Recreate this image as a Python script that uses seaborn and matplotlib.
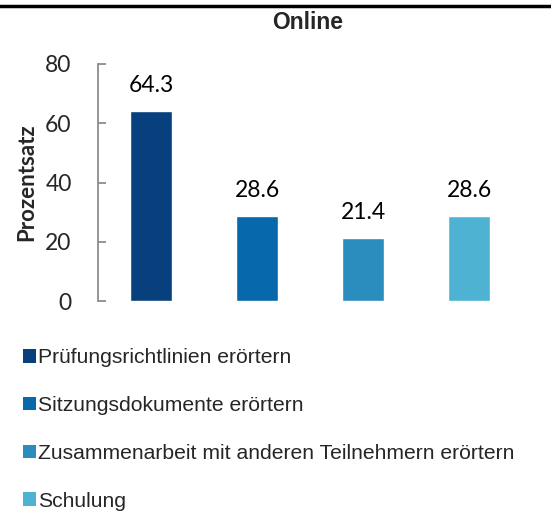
"""balkendiagramm 'Online' - anteil in prozent je thema."""

import matplotlib
matplotlib.use("Agg")
import matplotlib.pyplot as plt
from matplotlib.lines import Line2D
from matplotlib.patches import Patch
import seaborn as sns

# daten
kategorien = [
    "Prüfungsrichtlinien erörtern",
    "Sitzungsdokumente erörtern",
    "Zusammenarbeit mit anderen Teilnehmern erörtern",
    "Schulung",
]
prozent = [64.3, 28.6, 21.4, 28.6]
farben = ["#08407E", "#0868AC", "#2B8CBE", "#4EB3D3"]
y_ticks = [0, 20, 40, 60, 80]

sns.set_theme(style="white")
plt.rcParams["font.family"] = ["Lato", "DejaVu Sans"]

fig = plt.figure(figsize=(5.51, 5.13), dpi=100)
ax = fig.add_axes([98 / 551, 212 / 513, 424 / 551, 237 / 513])

sns.barplot(x=kategorien, y=prozent, hue=kategorien, palette=farben,
            width=0.405, legend=False, ax=ax, saturation=1)

for patch, wert in zip(ax.patches, prozent):
    ax.text(patch.get_x() + patch.get_width() / 2, wert + 6.4, f"{wert:.1f}",
            ha="center", va="baseline", fontsize=16.5, color="black")

ax.set_ylim(0, 80)
ax.set_xlim(-0.5, 3.5)
ax.set_yticks(y_ticks)
ax.set_xticks([])
ax.set_xlabel("")
ax.set_ylabel("Prozentsatz", fontsize=16, fontweight="bold", labelpad=6)
ax.tick_params(axis="y", direction="in", length=6, width=1.3, color="#8C8C8C",
               labelsize=16.5, pad=19, left=True)
for side in ["top", "right", "bottom"]:
    ax.spines[side].set_visible(False)
ax.spines["left"].set_color("#8C8C8C")
ax.spines["left"].set_linewidth(1.3)

fig.text(0.5 * (98 + 522) / 551 - 0.005, 1 - 23 / 513, "Online", fontsize=16.5,
         fontweight="bold", family="Liberation Sans", ha="center", va="center")

fig.add_artist(Line2D([0, 1], [1 - 6 / 513, 1 - 6 / 513], color="black", lw=2.5,
                      transform=fig.transFigure))

handles = [Patch(facecolor=f, edgecolor="none") for f in farben]
fig.legend(handles=handles, labels=kategorien, loc="upper left",
           bbox_to_anchor=(15 / 551, 1 - 340 / 513), frameon=False,
           prop={"family": "Liberation Sans", "size": 15.2},
           handlelength=0.6, handleheight=0.6, handletextpad=0.1,
           labelspacing=1.36, borderaxespad=0)

fig.savefig("out.png", dpi=100)
